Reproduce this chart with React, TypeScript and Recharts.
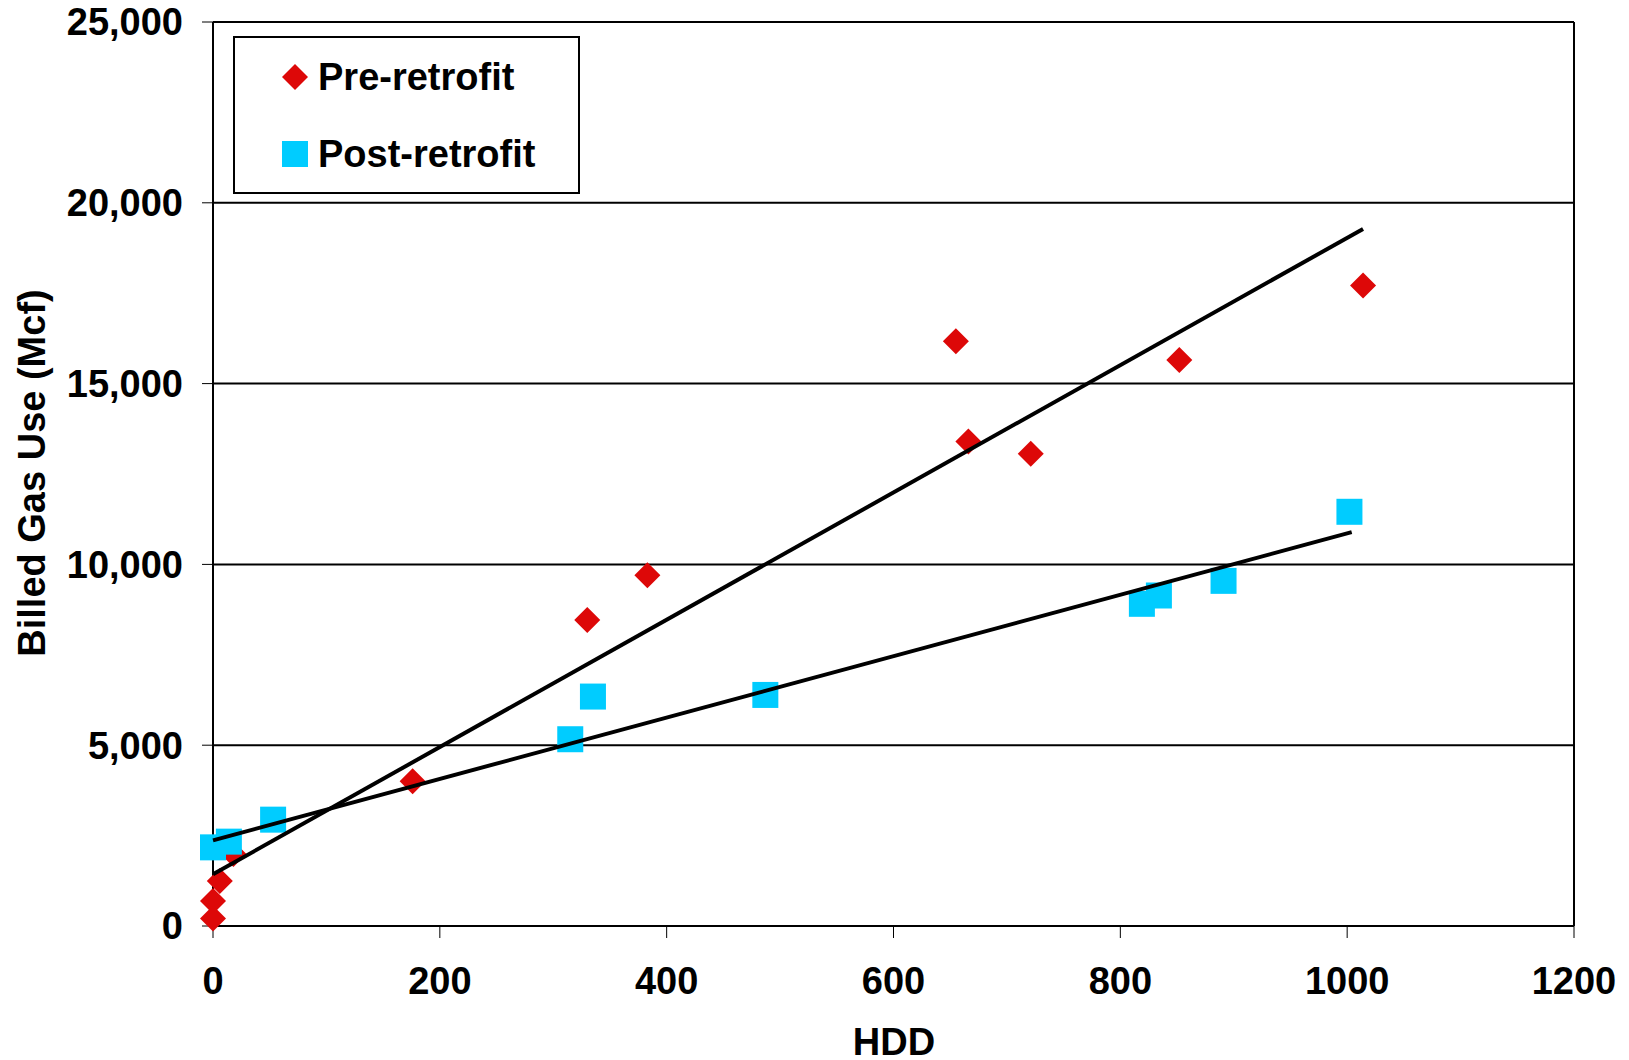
import * as React from "react";
import {
  ScatterChart,
  Scatter,
  XAxis,
  YAxis,
  CartesianGrid,
  ReferenceLine,
  Legend,
} from "recharts";

// pre-retrofit billed gas use vs HDD
const preHdd = [0, 0, 6, 18, 176, 330, 383, 655, 666, 721, 852, 1014];
const preGas = [205, 690, 1245, 1990, 4000, 8460, 9700, 16170, 13400, 13060, 15650, 17710];

// post-retrofit
const postHdd = [0, 14, 53, 315, 335, 487, 819, 834, 891, 1002];
const postGas = [2175, 2333, 2941, 5165, 6345, 6390, 8910, 9140, 9545, 11455];

// linear trend line end points (as drawn)
const preTrendHdd = [0, 1014];
const preTrendGas = [1429, 19277];
const postTrendHdd = [0, 1004];
const postTrendGas = [2369, 10891];

const xTicks = [0, 200, 400, 600, 800, 1000, 1200];
const yTicks = [0, 5000, 10000, 15000, 20000, 25000];

const seriesNames = ["Pre-retrofit", "Post-retrofit"];

const RED = "#dd0808";
const CYAN = "#00ccff";
const FONT = "'Liberation Sans', Arial, Helvetica, sans-serif";

const zip = (xs: number[], ys: number[]) => xs.map((x, i) => ({ x, y: ys[i] }));

const preData = zip(preHdd, preGas);
const postData = zip(postHdd, postGas);
const preTrend = zip(preTrendHdd, preTrendGas);
const postTrend = zip(postTrendHdd, postTrendGas);

function Diamond({ cx, cy }: any) {
  const r = 13;
  return (
    <path
      d={`M${cx} ${cy - r} L${cx + r} ${cy} L${cx} ${cy + r} L${cx - r} ${cy} Z`}
      fill={RED}
    />
  );
}

function Square({ cx, cy }: any) {
  return <rect x={cx - 13} y={cy - 13} width={26} height={26} fill={CYAN} />;
}

function LegendBox() {
  return (
    <svg width={347} height={158} style={{ display: "block" }}>
      <rect x={1} y={1} width={345} height={156} fill="#fff" stroke="#000" strokeWidth={2} />
      <path d="M62 28 L75 41 L62 54 L49 41 Z" fill={RED} />
      <rect x={49} y={105} width={26} height={26} fill={CYAN} />
      <text x={85} y={54} fontFamily={FONT} fontWeight="bold" fontSize={38} fill="#000">
        {seriesNames[0]}
      </text>
      <text x={85} y={131} fontFamily={FONT} fontWeight="bold" fontSize={38} fill="#000">
        {seriesNames[1]}
      </text>
    </svg>
  );
}

const tickStyle = { fill: "#000", fontSize: 38, fontWeight: "bold", fontFamily: FONT };

export default function App() {
  return (
    <div style={{ position: "absolute", left: 0, top: 0, background: "#fff" }}>
      <ScatterChart
        width={1629}
        height={1060}
        margin={{ top: 22, right: 55, left: 0, bottom: 0 }}
        style={{ fontFamily: FONT }}
      >
        <CartesianGrid vertical={false} stroke="#000" strokeWidth={2} />
        <XAxis
          type="number"
          dataKey="x"
          domain={[0, 1200]}
          ticks={xTicks}
          height={134}
          tickSize={12}
          tickMargin={29}
          axisLine={{ stroke: "#000", strokeWidth: 2 }}
          tickLine={{ stroke: "#000", strokeWidth: 1 }}
          tick={tickStyle}
          label={{
            content: () => (
              <text
                x={894}
                y={1055}
                textAnchor="middle"
                fontFamily={FONT}
                fontWeight="bold"
                fontSize={38}
                fill="#000"
              >
                HDD
              </text>
            ),
          }}
        />
        <YAxis
          type="number"
          dataKey="y"
          domain={[0, 25000]}
          ticks={yTicks}
          width={213}
          tickSize={11}
          tickMargin={19}
          axisLine={{ stroke: "#000", strokeWidth: 2 }}
          tickLine={{ stroke: "#000", strokeWidth: 1 }}
          tick={tickStyle}
          tickFormatter={(v) => Number(v).toLocaleString("en-US")}
          label={{
            content: () => (
              <text
                transform="translate(45,473) rotate(-90)"
                textAnchor="middle"
                fontFamily={FONT}
                fontWeight="bold"
                fontSize={38}
                fill="#000"
              >
                Billed Gas Use (Mcf)
              </text>
            ),
          }}
        />
        <ReferenceLine x={1200} stroke="#000" strokeWidth={2} />
        <ReferenceLine y={25000} stroke="#000" strokeWidth={2} />
        <Scatter
          name={seriesNames[0]}
          data={preData}
          shape={Diamond}
          isAnimationActive={false}
        />
        <Scatter
          name={seriesNames[1]}
          data={postData}
          shape={Square}
          isAnimationActive={false}
        />
        <Scatter
          data={preTrend}
          line={{ stroke: "#000", strokeWidth: 4 }}
          shape={() => <g />}
          legendType="none"
          isAnimationActive={false}
        />
        <Scatter
          data={postTrend}
          line={{ stroke: "#000", strokeWidth: 4 }}
          shape={() => <g />}
          legendType="none"
          isAnimationActive={false}
        />
        <Legend
          layout="vertical"
          align="center"
          verticalAlign="middle"
          content={() => <LegendBox />}
          wrapperStyle={{ position: "absolute", left: 233, top: 36, width: 347, height: 158 }}
        />
      </ScatterChart>
    </div>
  );
}
